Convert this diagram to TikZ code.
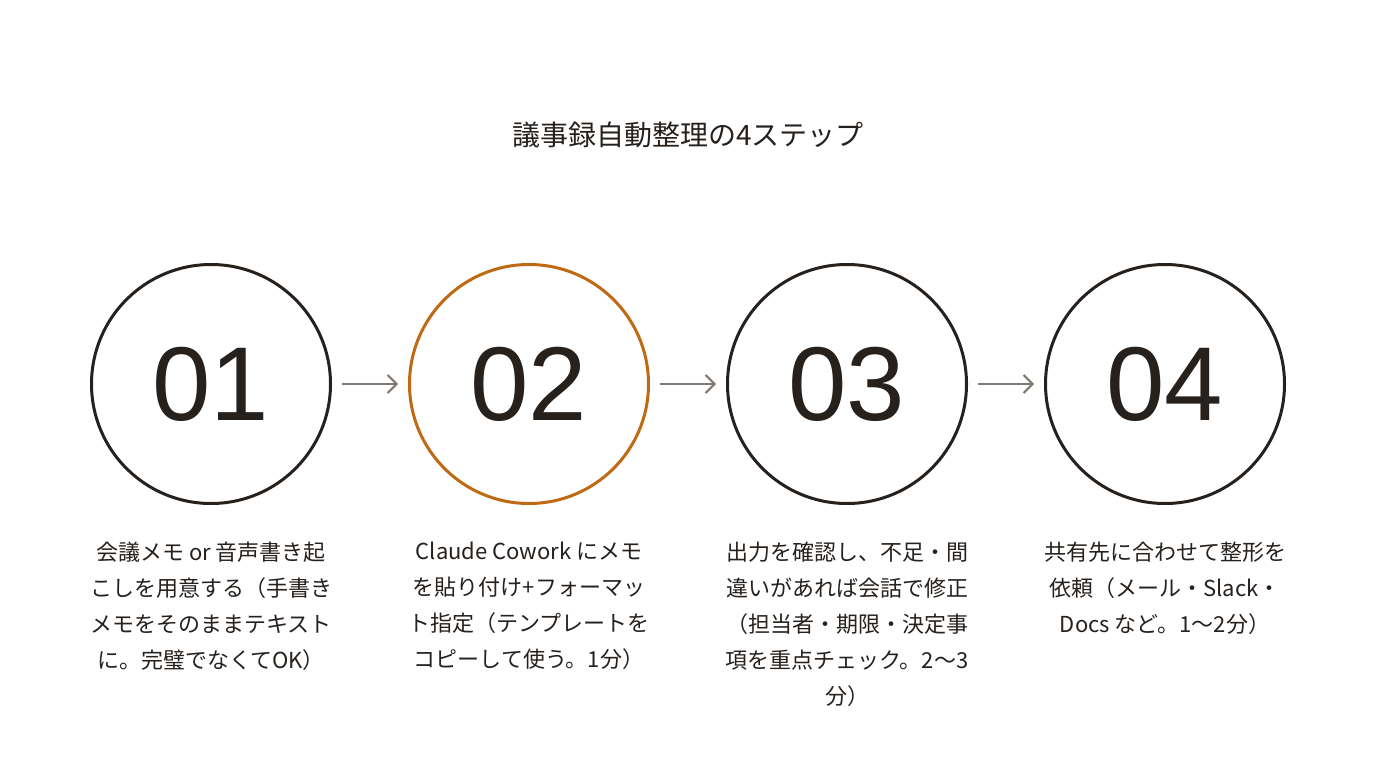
\documentclass[tikz,border=0pt]{standalone}
\usepackage{fontspec}
\setmainfont{Noto Sans CJK JP}
\newfontfamily\digitfont{Liberation Sans}
\usetikzlibrary{positioning,arrows.meta}
\definecolor{inkdark}{HTML}{26211D}
\definecolor{stepaccent}{HTML}{BF6A12}
\definecolor{arrowgray}{HTML}{807A75}
\tikzset{
  stepcircle/.style={circle, draw=inkdark, line width=3pt, minimum size=239pt,
    inner sep=0pt, text=inkdark, font=\digitfont\fontsize{105pt}{110pt}\selectfont},
  stepnote/.style={align=center, inner sep=0pt, text=inkdark,
    font=\fontsize{22pt}{36pt}\selectfont},
  flow/.style={draw=arrowgray, line width=2pt, shorten <=10pt, shorten >=10pt,
    -{Straight Barb[length=9pt, width=18pt, line width=2pt]}}
}

\begin{document}
\begin{tikzpicture}[x=1pt, y=-1pt]
  \useasboundingbox[fill=white] (0,0) rectangle (1376,768);
  \node[text=inkdark, font=\fontsize{28pt}{34pt}\selectfont] (title) at (688,135)
      {議事録自動整理の4ステップ};
  \node[stepcircle] (s1) at (211,384) {01};
  \node[stepcircle, draw=stepaccent] (s2) at (529,384) {02};
  \node[stepcircle] (s3) at (847,384) {03};
  \node[stepcircle] (s4) at (1165,384) {04};
  \foreach \a/\b in {s1/s2, s2/s3, s3/s4}
    \draw[flow] (\a) -- (\b);
  \node[stepnote, below=37pt of s1] (n1)
      {会議メモ or 音声書き起\\こしを用意する（手書き\\メモをそのままテキスト\\に。完璧でなくてOK）};
  \node[stepnote, below=37pt of s2] (n2)
      {Claude Cowork にメモ\\を貼り付け+フォーマッ\\ト指定（テンプレートを\\コピーして使う。1分）};
  \node[stepnote, below=37pt of s3] (n3)
      {出力を確認し、不足・間\\違いがあれば会話で修正\\（担当者・期限・決定事\\項を重点チェック。2〜3\\分）};
  \node[stepnote, below=37pt of s4] (n4)
      {共有先に合わせて整形を\\依頼（メール・Slack・\\Docs など。1〜2分）};
\end{tikzpicture}
\end{document}
